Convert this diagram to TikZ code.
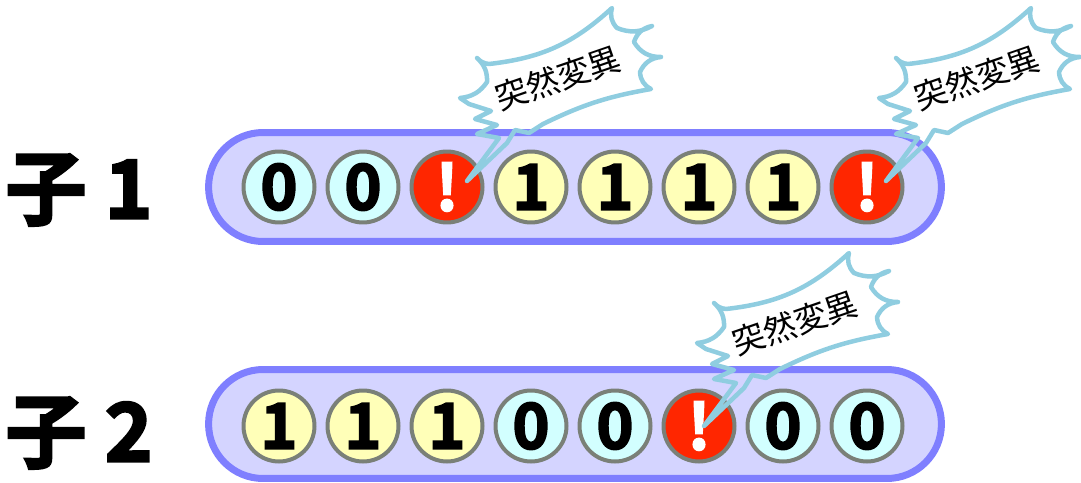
\documentclass[tikz,border=0pt]{standalone}
\usepackage{fontspec}
\newfontfamily\jpfont{Noto Sans CJK JP}
\newfontfamily\jpdigit{Noto Sans CJK JP Bold}[FakeBold=2.5]
\newfontfamily\jplabel{Noto Sans CJK JP Bold}[FakeBold=3]

\definecolor{barfill}{HTML}{D4D4FF}
\definecolor{barline}{HTML}{7F7FFF}
\definecolor{zerofill}{HTML}{D2FFFF}
\definecolor{onefill}{HTML}{FFFFB8}
\definecolor{mutfill}{HTML}{FF2600}
\definecolor{cellline}{HTML}{7A8078}
\definecolor{burstcol}{HTML}{8FCDE0}

\tikzset{
  chrom/.style={draw=barline, fill=barfill, line width=0.14cm,
    minimum width=14.66cm, minimum height=2.18cm, inner sep=0pt,
    rounded corners=1.09cm},
  cell/.style={circle, draw=cellline, line width=0.08cm, minimum size=1.42cm,
    inner sep=0pt, font=\jpdigit\fontsize{36}{36}\selectfont},
  zero/.style={cell, fill=zerofill},
  one/.style={cell, fill=onefill},
  mut/.style={cell, fill=mutfill, text=white},
  childlabel/.style={font=\jplabel\fontsize{46}{46}\selectfont, inner sep=0pt},
  burstline/.style={draw=burstcol, line width=0.09cm, line join=round, line cap=round},
  burstlabel/.style={font=\jpfont\fontsize{18.5}{18.5}\selectfont, rotate=19, inner sep=0pt},
  mutburst/.pic={
    \draw[burstline] (13,-89) to[bend right=25] (40,-105) to[bend right=25] (30,-129)
      to[bend right=20] (42,-123) to[bend right=18] (165,-179)
      to[bend right=30] (170,-159) to[bend right=25] (205,-161)
      to[bend right=30] (187,-145) to[bend right=30] (214,-130)
      to[bend right=30] (193,-115) to[bend right=30] (204,-98)
      to[bend right=8] (96,-63) -- (82,-54) -- (68,-57) -- (60,-44) -- (20,-6)
      -- (52,-49) -- (30,-53) -- (50,-62) -- (28,-68) -- (44,-76) -- (22,-83) -- cycle;
    \node[burstlabel] at (111,-109) {突然変異};
  }
}

\begin{document}
\begin{tikzpicture}[x=0.02cm, y=-0.02cm]
  \useasboundingbox (0,0) rectangle (1081,483);

  % child 1
  \node[childlabel] (c1) at (79,190) {子 1};
  \node[chrom] (bar1) at (575,187) {};
  \node[zero] (a1) at (279,187) {0};
  \node[zero] (a2) at (363,187) {0};
  \node[mut]  (a3) at (447,187) {!};
  \node[one]  (a4) at (531,187) {1};
  \node[one]  (a5) at (615,187) {1};
  \node[one]  (a6) at (699,187) {1};
  \node[one]  (a7) at (783,187) {1};
  \node[mut]  (a8) at (867,187) {!};

  % child 2
  \node[childlabel] (c2) at (79,433) {子 2};
  \node[chrom] (bar2) at (575,424) {};
  \node[one]  (b1) at (279,426) {1};
  \node[one]  (b2) at (363,426) {1};
  \node[one]  (b3) at (447,426) {1};
  \node[zero] (b4) at (531,426) {0};
  \node[zero] (b5) at (615,426) {0};
  \node[mut]  (b6) at (699,426) {!};
  \node[zero] (b7) at (783,426) {0};
  \node[zero] (b8) at (867,426) {0};

  % mutation callouts
  \pic at (a3.center) {mutburst};
  \pic at ([xshift=-0.02cm]a8.center) {mutburst};
  \pic at ([xshift=-0.3cm, yshift=-0.12cm]b6.center) {mutburst};
\end{tikzpicture}
\end{document}
